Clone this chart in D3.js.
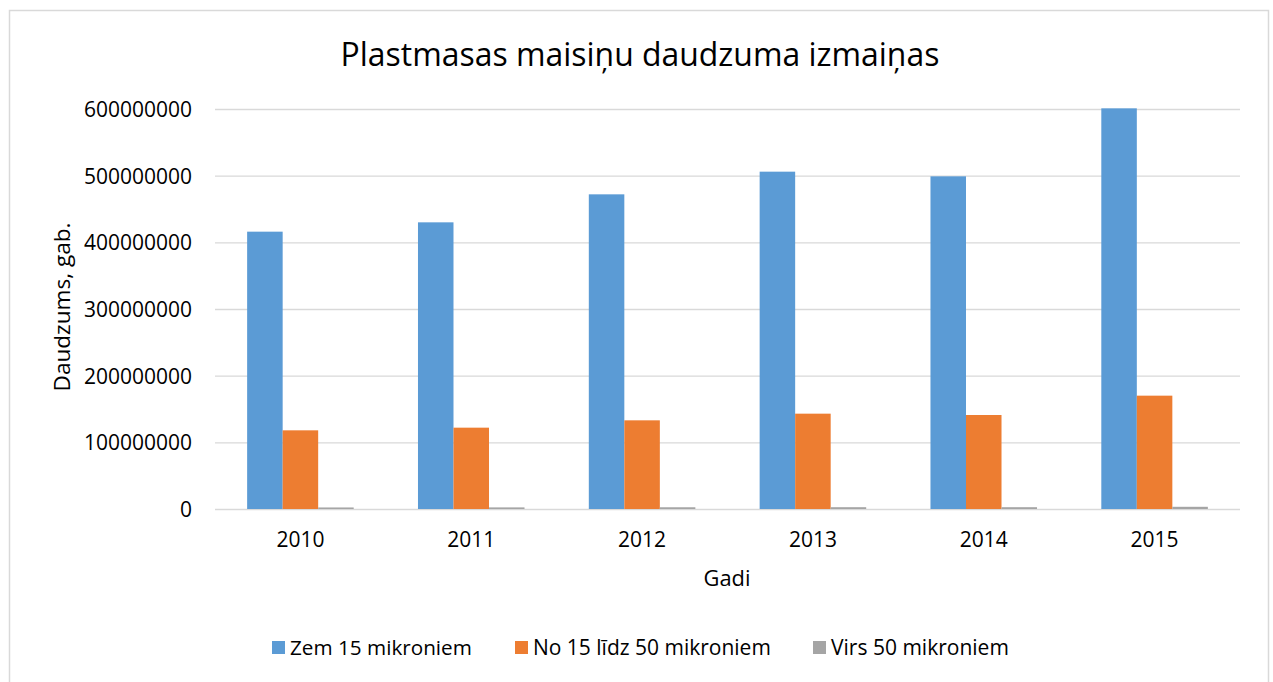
<!DOCTYPE html>
<html>
<head>
<meta charset="utf-8">
<script src="https://cdn.jsdelivr.net/npm/d3@7"></script>
<style>
  html, body { margin: 0; padding: 0; background: #fff; }
  svg { display: block; }
  text { font-family: "Open Sans", "Noto Sans", sans-serif; fill: #000; }
</style>
</head>
<body>
<svg id="chart" width="1273" height="682"></svg>
<script>
const years = ["2010", "2011", "2012", "2013", "2014", "2015"];
const seriesNames = ["Zem 15 mikroniem", "No 15 līdz 50 mikroniem", "Virs 50 mikroniem"];
const zem15 = [416000000, 430000000, 472000000, 506000000, 499000000, 601000000];
const no15lidz50 = [118000000, 122000000, 133000000, 143000000, 141000000, 170000000];
const virs50 = [2300000, 2400000, 2600000, 2700000, 2700000, 3300000];
const yTicks = [0, 100000000, 200000000, 300000000, 400000000, 500000000, 600000000];
const colors = ["#5B9BD5", "#ED7D31", "#A5A5A5"];
const titleText = "Plastmasas maisiņu daudzuma izmaiņas";
const yTitle = "Daudzums, gab.";
const xTitle = "Gadi";

const seriesValues = [zem15, no15lidz50, virs50];

const svg = d3.select("#chart");

// outer border
svg.append("rect")
  .attr("x", 9.5).attr("y", 10.5)
  .attr("width", 1259).attr("height", 700)
  .attr("fill", "none").attr("stroke", "#D9D9D9").attr("stroke-width", 1.5);

const x = d3.scaleBand().domain(years).range([215, 1240]).paddingInner(0).paddingOuter(0);
const y = d3.scaleLinear().domain([0, 600000000]).range([509, 109]);
const gapRatio = 1.81;
const groupW = x.bandwidth() * 3 / (3 + gapRatio);
const xs = d3.scaleBand().domain(seriesNames).range([(x.bandwidth() - groupW) / 2, (x.bandwidth() + groupW) / 2]);

// gridlines via axis
const yAxis = d3.axisLeft(y).tickValues(yTicks).tickSize(-(1240 - 215)).tickFormat(d => d3.format("d")(d));
const gy = svg.append("g").attr("transform", "translate(215,0)").call(yAxis);
gy.select(".domain").remove();
gy.selectAll(".tick line").attr("stroke", "#D9D9D9").attr("stroke-width", 1.4);
gy.selectAll(".tick text")
  .attr("x", -23)
  .attr("dy", "0.35em")
  .style("font-size", "21px")
  .style("font-family", '"Open Sans", sans-serif')
  .attr("fill", "#000");

// bars
const data = [];
years.forEach((yr, i) => {
  seriesNames.forEach((s, j) => {
    data.push({ year: yr, series: s, value: seriesValues[j][i], color: colors[j] });
  });
});
svg.append("g").selectAll("rect").data(data).join("rect")
  .attr("x", d => x(d.year) + xs(d.series))
  .attr("width", xs.bandwidth())
  .attr("y", d => y(d.value))
  .attr("height", d => y(0) - y(d.value))
  .attr("fill", d => d.color);

// x axis labels
const xAxis = d3.axisBottom(x).tickSize(0).tickPadding(0);
const gx = svg.append("g").attr("transform", "translate(0,509)").call(xAxis);
gx.select(".domain").remove();
gx.selectAll(".tick text")
  .attr("y", 38)
  .attr("dy", 0)
  .style("font-size", "21px")
  .style("font-family", '"Open Sans", sans-serif')
  .attr("fill", "#000");

function fit(sel, target) {
  const w = sel.node().getComputedTextLength();
  const fs = parseFloat(sel.style("font-size"));
  sel.style("font-size", (fs * target / w) + "px");
}

// title
const t = svg.append("text").attr("x", 640).attr("y", 66).attr("text-anchor", "middle")
  .style("font-size", "30px").text(titleText);
fit(t, 599);

// axis titles
const yt = svg.append("text")
  .attr("transform", "translate(70,307) rotate(-90)")
  .attr("text-anchor", "middle").style("font-size", "20px").text(yTitle);
fit(yt, 169);

const xt = svg.append("text").attr("x", 727).attr("y", 586).attr("text-anchor", "middle")
  .style("font-size", "20px").text(xTitle);
fit(xt, 47);

// legend
const legendX = [272, 515, 813];
const legendW = [182, 238, 178];
const lg = svg.append("g");
seriesNames.forEach((s, j) => {
  lg.append("rect").attr("x", legendX[j]).attr("y", 641).attr("width", 13).attr("height", 13).attr("fill", colors[j]);
  const tx = lg.append("text").attr("x", legendX[j] + 18).attr("y", 655).style("font-size", "20px").text(s);
  fit(tx, legendW[j]);
});
</script>
</body>
</html>
